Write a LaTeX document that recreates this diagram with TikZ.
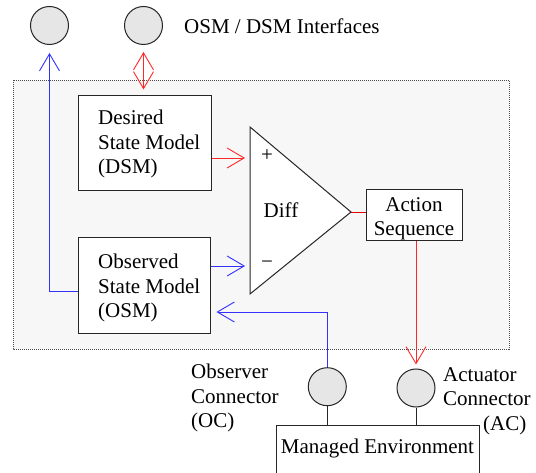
\documentclass[tikz,border=0pt]{standalone}
\usepackage{fontspec}
\setmainfont{Liberation Serif}
\usetikzlibrary{arrows.meta}
\definecolor{framebg}{RGB}{247,247,247}
\definecolor{portfill}{RGB}{230,230,230}
\definecolor{lred}{RGB}{255,40,40}
\definecolor{lblue}{RGB}{50,50,255}
\tikzset{vbarb/.tip={Straight Barb[length=17pt,width=20pt]}}
\begin{document}
\begin{tikzpicture}[x=1pt,y=-1pt,
  txt/.style={font=\fontsize{21}{24.5}\selectfont, inner sep=0pt, align=left},
  box/.style={draw=black!85, line width=1pt, fill=white, inner sep=0pt},
  port/.style={circle, draw=black!85, line width=1pt, fill=portfill, minimum size=38pt, inner sep=0pt},
  redline/.style={draw=lred, line width=0.9pt},
  blueline/.style={draw=lblue, line width=0.9pt},
  wire/.style={draw=black!85, line width=1pt}]
\useasboundingbox (0,0) rectangle (536,473);
\fill[white] (0,0) rectangle (536,473);
% frame
\draw[fill=framebg, draw=black!70, line width=0.6pt, dash pattern=on 1pt off 1pt] (13,80) rectangle (509,349);
% interface ports
\node[port] (p1) at (49.5,25.5) {};
\node[port] (p2) at (143.5,25.5) {};
\node[txt, anchor=base west] (iftext) at (184,34) {OSM / DSM Interfaces};
% model boxes
\node[box, minimum width=133pt, minimum height=95pt] (dsm) at (144.5,143.5) {};
\node[txt, anchor=north west] (dsmtext) at (98,110) {Desired\\State Model\\(DSM)};
\node[box, minimum width=132pt, minimum height=96pt] (osm) at (144,286) {};
\node[txt, anchor=north west] (osmtext) at (98,254) {Observed\\State Model\\(OSM)};
% diff triangle
\coordinate (tl) at (250,127);
\coordinate (bl) at (250,294);
\coordinate (apex) at (351,212);
\coordinate (inp) at (250,158);
\coordinate (inm) at (250,266);
\draw[wire, fill=white, line join=miter] (tl) -- (apex) -- (bl) -- cycle;
\node[txt] (plus) at (267,156) {+};
\node[txt] (minus) at (267,265) {−};
\node[txt, anchor=base] (diff) at (281,218) {Diff};
% action sequence
\node[box, minimum width=96pt, minimum height=51pt] (act) at (414,215.5) {};
\node[txt, align=center, anchor=north] (acttext) at (414,197) {Action\\Sequence};
% connectors ports
\node[port] (oc) at (327.3,386.7) {};
\node[port] (ac) at (416,388) {};
\node[txt, anchor=north west] (octext) at (191,364) {Observer\\Connector\\(OC)};
\node[txt, anchor=north west] (actext) at (443,367) {Actuator\\Connector\\\hspace*{40pt}(AC)};
% managed environment
\node[box, minimum width=203pt, minimum height=80pt, anchor=north west] (env) at (276,425) {};
\node[txt, anchor=base] (envtext) at (377.5,453) {Managed Environment};
\draw[wire] (oc.south) -- (oc.south |- env.north);
\draw[wire] (ac.south) -- (ac.south |- env.north);
% arrows
\draw[redline, -{vbarb}, shorten >=5pt] (dsm.east |- inp) -- (inp);
\draw[blueline, -{vbarb}, shorten >=5pt] (osm.east |- inm) -- (inm);
\draw[draw=red!90!black, line width=0.9pt] (apex) -- (act.west |- apex);
\draw[redline, -{vbarb}, shorten >=4pt] (act.south -| ac.north) -- (ac.north);
\coordinate (oclevel) at (0,312);
\draw[blueline, -{vbarb}, shorten >=6pt] (oc.north) |- (osm.east |- oclevel);
\coordinate (osmout) at (0,291);
\draw[blueline, -{vbarb}, shorten >=8pt] (osm.west |- osmout) -| (p1.south);
\draw[redline, {vbarb}-{vbarb}, shorten <=7pt, shorten >=6pt] (p2.south) -- (p2.south |- dsm.north);
\end{tikzpicture}
\end{document}
